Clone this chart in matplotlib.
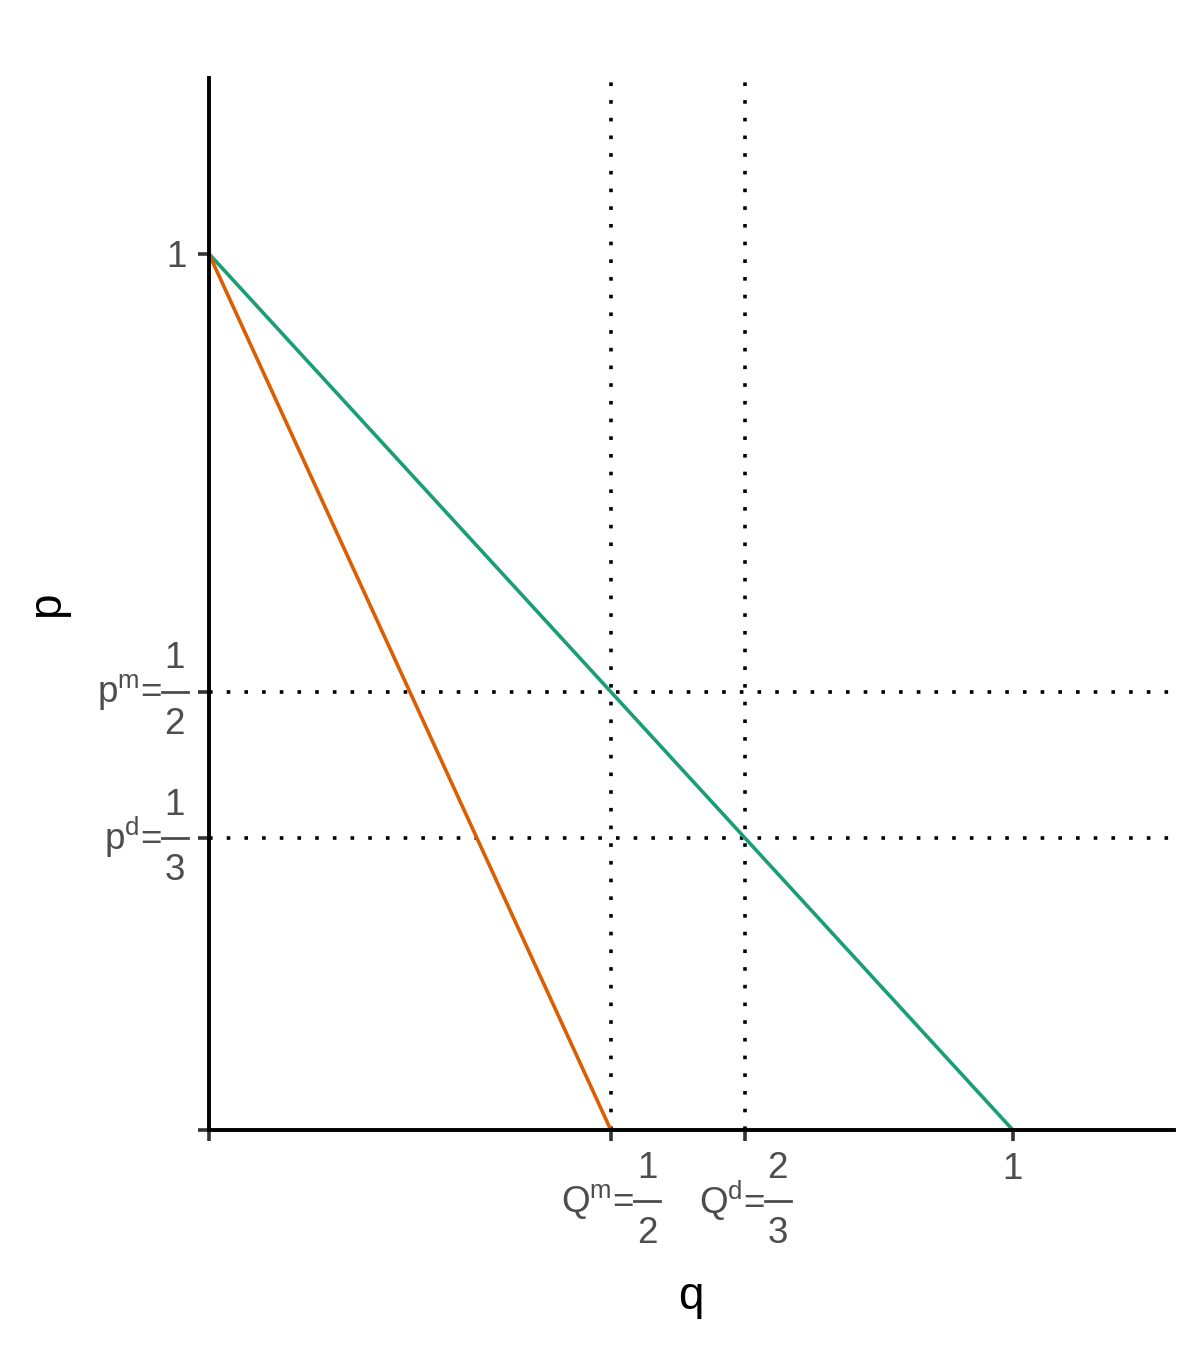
import matplotlib
matplotlib.use("Agg")
import matplotlib.pyplot as plt
from matplotlib.offsetbox import TextArea, HPacker, VPacker, DrawingArea, AnnotationBbox
from matplotlib.lines import Line2D

plt.rcParams['font.family'] = ['Liberation Sans', 'DejaVu Sans']
plt.rcParams['mathtext.fontset'] = 'custom'
plt.rcParams['mathtext.rm'] = 'Liberation Sans'
plt.rcParams['mathtext.it'] = 'Liberation Sans'
plt.rcParams['mathtext.bf'] = 'Liberation Sans:bold'

# demand curves (q at p=0 and p=1)
demand_q = [1, 0]
demand_p = [0, 1]
mr_q = [0.5, 0]
mr_p = [0, 1]

# reference levels
q_marks = [1 / 2, 2 / 3]
p_marks = [1 / 2, 1 / 3]

x_ticks = [0, 1 / 2, 2 / 3, 1]
x_labels = ["", "", "", "1"]
y_ticks = [0, 1 / 3, 1 / 2, 1]
y_labels = ["", "", "", "1"]

# fraction tick labels: (value, symbol, superscript, numerator, denominator)
x_frac = [(1 / 2, "Q", "m", "1", "2"), (2 / 3, "Q", "d", "2", "3")]
y_frac = [(1 / 2, "p", "m", "1", "2"), (1 / 3, "p", "d", "1", "3")]

green = "#1b9e77"
orange = "#d95f02"
label_grey = "#4d4d4d"
FS = 26.5


def frac_label(sym, sup, num, den):
    tp = dict(color=label_grey, fontsize=FS)
    head = TextArea(sym + r"$^{\mathregular{" + sup + "}}$=", textprops=tp)
    top = TextArea(num, textprops=tp)
    bot = TextArea(den, textprops=tp)
    bar = DrawingArea(19, 2)
    bar.add_artist(Line2D([0, 19], [1, 1], color=label_grey, lw=2.0))
    frac = VPacker(children=[top, bar, bot], align="center", pad=0, sep=10)
    return HPacker(children=[head, frac], align="center", pad=0, sep=0)


fig = plt.figure(figsize=(12, 13.5), dpi=100)
ax = fig.add_axes([0.174, 0.163, 0.804, 0.779])

ax.plot(demand_q, demand_p, color=green, lw=2.6, solid_capstyle="butt")
ax.plot(mr_q, mr_p, color=orange, lw=2.6, solid_capstyle="butt")

for q in q_marks:
    ax.axvline(q, color="black", lw=2.6, linestyle=(0, (1, 3.9)),
               dash_capstyle="butt", zorder=1)
for p in p_marks:
    ax.axhline(p, color="black", lw=2.6, linestyle=(0, (1, 3.9)),
               dash_capstyle="butt", zorder=1)

ax.set_xlim(0, 1.2)
ax.set_ylim(0, 1.2)

ax.set_xticks(x_ticks)
ax.set_xticklabels(x_labels)
ax.set_yticks(y_ticks)
ax.set_yticklabels(y_labels)

ax.tick_params(axis="both", which="major", length=8, width=2.6,
               color="#333333", labelcolor=label_grey, labelsize=FS, pad=8)

for val, sym, sup, num, den in x_frac:
    ab = AnnotationBbox(frac_label(sym, sup, num, den), xy=(val, 0),
                        xycoords=("data", "axes fraction"), xybox=(0, -15),
                        boxcoords="offset points", box_alignment=(0.5, 1),
                        frameon=False, pad=0, annotation_clip=False)
    ax.add_artist(ab)
for val, sym, sup, num, den in y_frac:
    ab = AnnotationBbox(frac_label(sym, sup, num, den), xy=(0, val),
                        xycoords=("axes fraction", "data"), xybox=(-15, 0),
                        boxcoords="offset points", box_alignment=(1, 0.5),
                        frameon=False, pad=0, annotation_clip=False)
    ax.add_artist(ab)

for side in ["top", "right"]:
    ax.spines[side].set_visible(False)
for side in ["left", "bottom"]:
    ax.spines[side].set_linewidth(2.8)
    ax.spines[side].set_color("black")

ax.set_xlabel("q", fontsize=33)
ax.set_ylabel("p", fontsize=33)
ax.xaxis.set_label_coords(0.5, -0.138)
ax.yaxis.set_label_coords(-0.145, 0.5)

fig.savefig("out.png", dpi=100)
